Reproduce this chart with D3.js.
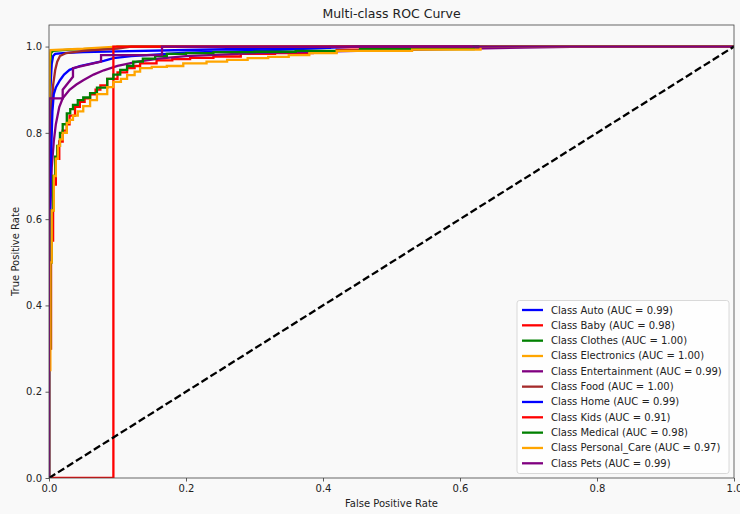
<!DOCTYPE html>
<html>
<head>
<meta charset="utf-8">
<script src="https://cdn.jsdelivr.net/npm/d3@7"></script>
<style>
  html, body { margin: 0; padding: 0; background: #f9f9f9; }
  svg { display: block; font-family: "DejaVu Sans", sans-serif; }
</style>
</head>
<body>
<svg id="chart" width="740" height="514"></svg>
<script>
// ---------------- data ----------------
const classNames = ["Auto", "Baby", "Clothes", "Electronics", "Entertainment", "Food",
                    "Home", "Kids", "Medical", "Personal_Care", "Pets"];
const aucValues = [0.99, 0.98, 1.00, 1.00, 0.99, 1.00, 0.99, 0.91, 0.98, 0.97, 0.99];

const fprAuto = [0, 0, 0.001, 0.002, 0.004, 0.006, 0.009, 0.02, 0.05, 0.1, 0.2, 0.3, 0.41, 0.41, 1];
const tprAuto = [0, 0.45, 0.75, 0.9, 0.96, 0.978, 0.983, 0.985, 0.987, 0.989, 0.992, 0.995, 0.997, 1, 1];

const fprBaby = [0, 0, 0.003, 0.006, 0.01, 0.015, 0.02, 0.026, 0.03, 0.038, 0.045, 0.052, 0.06, 0.068, 0.075, 0.085, 0.1, 0.114, 0.125, 0.133, 0.157, 0.18, 0.206, 0.24, 0.28, 0.33, 0.385, 0.42, 0.47, 1];
const tprBaby = [0, 0.3, 0.55, 0.68, 0.74, 0.78, 0.805, 0.82, 0.84, 0.86, 0.872, 0.88, 0.889, 0.9, 0.91, 0.925, 0.94, 0.95, 0.955, 0.961, 0.968, 0.971, 0.974, 0.977, 0.983, 0.985, 0.988, 0.993, 1, 1];

const fprClothes = [0, 0, 0.001, 0.003, 0.006, 0.03, 0.1, 0.1, 1];
const tprClothes = [0, 0.7, 0.95, 0.985, 0.99, 0.993, 0.997, 1, 1];

const fprElectronics = [0, 0, 0.001, 0.002, 0.05, 0.1, 1];
const tprElectronics = [0, 0.8, 0.97, 0.992, 0.995, 1, 1];

const fprEntertainment = [0, 0, 0.002, 0.004, 0.007, 0.01, 0.015, 0.02, 0.03, 0.04, 0.05, 0.065, 0.08, 0.1, 0.13, 0.16, 0.2, 0.3, 0.45, 0.6, 0.785, 1];
const tprEntertainment = [0, 0.4, 0.62, 0.72, 0.78, 0.82, 0.86, 0.88, 0.9, 0.912, 0.922, 0.935, 0.945, 0.955, 0.965, 0.972, 0.978, 0.985, 0.99, 0.995, 1, 1];

const fprFood = [0, 0, 0.002, 0.004, 0.006, 0.009, 0.012, 0.016, 0.025, 0.05, 0.1, 0.12, 1];
const tprFood = [0, 0.5, 0.75, 0.86, 0.91, 0.945, 0.965, 0.978, 0.985, 0.99, 0.995, 1, 1];

const fprHome = [0, 0, 0.002, 0.004, 0.005, 0.007, 0.01, 0.016, 0.022, 0.03, 0.045, 0.06, 0.08, 0.094, 0.12, 0.16, 0.2, 0.3, 0.45, 1];
const tprHome = [0, 0.45, 0.7, 0.8, 0.85, 0.89, 0.905, 0.922, 0.935, 0.946, 0.955, 0.96, 0.967, 0.973, 0.978, 0.982, 0.986, 0.99, 1, 1];

const fprKids = [0, 0.094, 0.094, 1];
const tprKids = [0, 0, 1, 1];

const fprMedical = [0, 0, 0.002, 0.004, 0.006, 0.009, 0.012, 0.016, 0.02, 0.026, 0.031, 0.035, 0.042, 0.05, 0.06, 0.07, 0.085, 0.094, 0.104, 0.114, 0.123, 0.137, 0.155, 0.172, 0.2, 0.24, 0.3, 0.36, 0.454, 0.62, 1];
const tprMedical = [0, 0.3, 0.5, 0.62, 0.7, 0.745, 0.77, 0.8, 0.82, 0.845, 0.855, 0.865, 0.876, 0.882, 0.892, 0.905, 0.925, 0.935, 0.946, 0.955, 0.965, 0.972, 0.978, 0.983, 0.985, 0.987, 0.988, 0.99, 0.994, 1, 1];

const fprPersonalCare = [0, 0, 0.002, 0.004, 0.007, 0.01, 0.013, 0.016, 0.02, 0.026, 0.03, 0.035, 0.042, 0.05, 0.06, 0.07, 0.085, 0.094, 0.105, 0.114, 0.125, 0.133, 0.15, 0.172, 0.196, 0.23, 0.26, 0.29, 0.32, 0.35, 0.38, 0.42, 0.53, 0.63, 1];
const tprPersonalCare = [0, 0.25, 0.5, 0.62, 0.7, 0.74, 0.77, 0.785, 0.8, 0.823, 0.83, 0.84, 0.85, 0.862, 0.876, 0.89, 0.906, 0.918, 0.925, 0.934, 0.942, 0.95, 0.953, 0.955, 0.961, 0.965, 0.969, 0.973, 0.976, 0.98, 0.985, 0.99, 0.993, 1, 1];

const fprPets = [0, 0, 0.02, 0.02, 0.035, 0.035, 0.076, 0.076, 0.165, 0.165, 1];
const tprPets = [0, 0.88, 0.88, 0.9, 0.93, 0.95, 0.965, 0.98, 0.98, 1, 1];

const xTicks = [0.0, 0.2, 0.4, 0.6, 0.8, 1.0];
const yTicks = [0.0, 0.2, 0.4, 0.6, 0.8, 1.0];

// ---------------- styles ----------------
const colorCycle = ["blue", "red", "green", "orange", "purple", "brown"];
const stepped = new Set(["Baby", "Medical", "Personal_Care"]);

const fprList = [fprAuto, fprBaby, fprClothes, fprElectronics, fprEntertainment, fprFood,
                 fprHome, fprKids, fprMedical, fprPersonalCare, fprPets];
const tprList = [tprAuto, tprBaby, tprClothes, tprElectronics, tprEntertainment, tprFood,
                 tprHome, tprKids, tprMedical, tprPersonalCare, tprPets];

const series = classNames.map((name, i) => ({
  name, auc: aucValues[i], color: colorCycle[i % colorCycle.length],
  points: fprList[i].map((f, j) => [f, tprList[i][j]])
}));

// ---------------- layout ----------------
const svg = d3.select("#chart");
const pL = 49, pR = 734, pT = 25, pB = 478;

const x = d3.scaleLinear().domain([0, 1]).range([pL, pR]);
const y = d3.scaleLinear().domain([0, 1.05]).range([pB, pT]);

svg.append("rect").attr("width", 740).attr("height", 514).attr("fill", "#f9f9f9");

const clipId = "plotclip";
svg.append("clipPath").attr("id", clipId).append("rect")
  .attr("x", pL).attr("y", pT).attr("width", pR - pL).attr("height", pB - pT);

const plot = svg.append("g").attr("clip-path", `url(#${clipId})`);

series.forEach(s => {
  const line = d3.line()
    .x(d => x(d[0])).y(d => y(d[1]))
    .curve(stepped.has(s.name) ? d3.curveStepAfter : d3.curveLinear);
  plot.append("path")
    .attr("d", line(s.points))
    .attr("fill", "none")
    .attr("stroke", s.color)
    .attr("stroke-width", 2.3)
    .attr("stroke-linejoin", "miter");
});

// diagonal
plot.append("path")
  .attr("d", d3.line().x(d => x(d[0])).y(d => y(d[1]))([[0, 0], [1, 1]]))
  .attr("fill", "none").attr("stroke", "black").attr("stroke-width", 2.3)
  .attr("stroke-dasharray", "7.4,3.2");

// axes
const xAxis = d3.axisBottom(x).tickValues(xTicks).tickFormat(d3.format(".1f")).tickSizeOuter(0).tickSize(3.5).tickPadding(3.5);
const yAxis = d3.axisLeft(y).tickValues(yTicks).tickFormat(d3.format(".1f")).tickSizeOuter(0).tickSize(3.5).tickPadding(3.5);

const gx = svg.append("g").attr("transform", `translate(0,${pB})`).call(xAxis);
const gy = svg.append("g").attr("transform", `translate(${pL},0)`).call(yAxis);
[gx, gy].forEach(g => {
  g.select(".domain").remove();
  g.selectAll(".tick line").attr("stroke", "#333").attr("stroke-width", 0.8);
  g.selectAll(".tick text").attr("fill", "#222").style("font-size", "10px").style("font-family", "DejaVu Sans");
});

// spines
svg.append("rect").attr("x", pL).attr("y", pT).attr("width", pR - pL).attr("height", pB - pT)
  .attr("fill", "none").attr("stroke", "#444").attr("stroke-width", 0.8);

// labels
svg.append("text").attr("x", (pL + pR) / 2).attr("y", 18).attr("text-anchor", "middle")
  .style("font-size", "12.5px").attr("fill", "#222").text("Multi-class ROC Curve");
svg.append("text").attr("x", (pL + pR) / 2).attr("y", 507).attr("text-anchor", "middle")
  .style("font-size", "10px").attr("fill", "#222").text("False Positive Rate");
svg.append("text").attr("transform", `translate(19,${(pT + pB) / 2}) rotate(-90)`)
  .attr("text-anchor", "middle").style("font-size", "10px").attr("fill", "#222").text("True Positive Rate");

// legend
const lg = svg.append("g");
lg.append("rect").attr("x", 517).attr("y", 300.5).attr("width", 212).attr("height", 173)
  .attr("rx", 2.5).attr("fill", "white").attr("fill-opacity", 0.8)
  .attr("stroke", "#d0d0d0").attr("stroke-width", 0.8);
series.forEach((s, i) => {
  const yy = 310 + i * 15.33;
  lg.append("line").attr("x1", 522).attr("x2", 543).attr("y1", yy).attr("y2", yy)
    .attr("stroke", s.color).attr("stroke-width", 2.3);
  lg.append("text").attr("x", 551).attr("y", yy).attr("dy", "0.35em")
    .style("font-size", "10px").attr("fill", "#222")
    .text(`Class ${s.name} (AUC = ${s.auc.toFixed(2)})`);
});
</script>
</body>
</html>
